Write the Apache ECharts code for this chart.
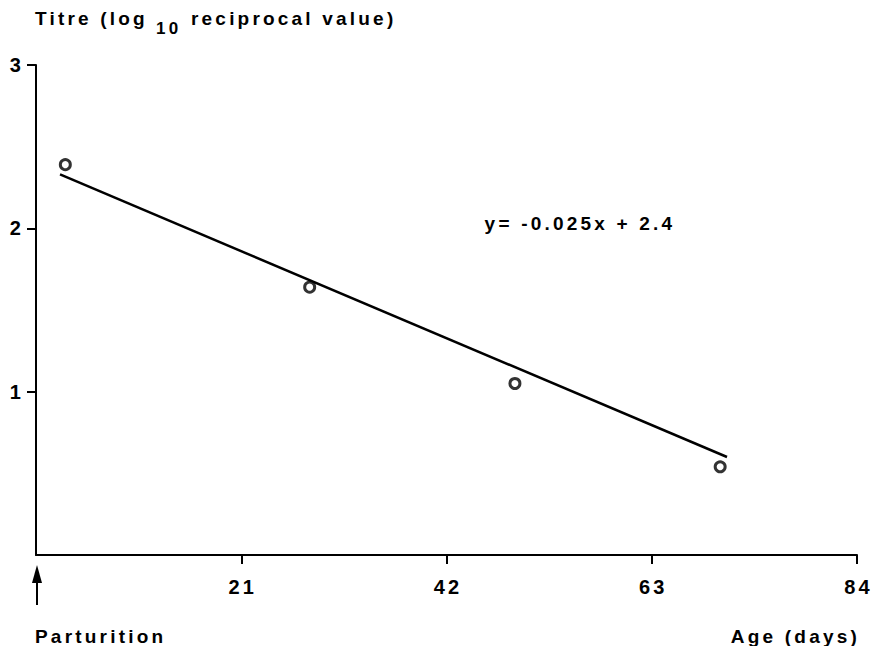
<!DOCTYPE html>
<html>
<head>
<meta charset="utf-8">
<script src="https://cdn.jsdelivr.net/npm/echarts@6/dist/echarts.min.js"></script>
<style>
html,body{margin:0;padding:0;background:#fff;}
#c{width:876px;height:646px;}
#c svg text{letter-spacing:3.2px;}
</style>
</head>
<body>
<div id="c"></div>
<script>
// Data
const ageDays = [3, 28, 49, 70];
const titre = [2.39, 1.64, 1.05, 0.54];
const fitX = [2.46, 70.7];
const fitY = [2.33, 0.60];
const xTicks = [21, 42, 63, 84];
const yTicks = [1, 2, 3];
const equationText = 'y= -0.025x + 2.4';
const equationAt = [45.9, 2.03];

const FONT = '"Liberation Sans", Arial, sans-serif';
const chart = echarts.init(document.getElementById('c'), null, {renderer: 'svg'});

const labelStyle = {color: '#000', fontFamily: FONT, fontSize: 20, fontWeight: 'bold'};

const option = {
  backgroundColor: '#fff',
  animation: false,
  grid: {left: 36, top: 65, right: 19, bottom: 91, containLabel: false},
  xAxis: {
    type: 'value', min: 0, max: 84, interval: 21,
    axisLine: {lineStyle: {color: '#000', width: 2}},
    axisTick: {show: true, length: 9, lineStyle: {color: '#000', width: 2}, customValues: xTicks},
    axisLabel: Object.assign({customValues: xTicks, margin: 22, padding: [0, 0, 0, 3]}, labelStyle),
    splitLine: {show: false}
  },
  yAxis: {
    type: 'value', min: 0, max: 3, interval: 1,
    axisLine: {show: true, lineStyle: {color: '#000', width: 2}},
    axisTick: {show: true, length: 9, lineStyle: {color: '#000', width: 2}, customValues: yTicks},
    axisLabel: Object.assign({customValues: yTicks, margin: 12}, labelStyle),
    splitLine: {show: false}
  },
  series: [
    {
      type: 'line',
      data: fitX.map((x, i) => [x, fitY[i]]),
      showSymbol: false,
      lineStyle: {color: '#000', width: 2.5},
      z: 2
    },
    {
      type: 'scatter',
      data: ageDays.map((x, i) => [x, titre[i]]),
      symbol: 'circle',
      symbolSize: 10,
      itemStyle: {color: '#fff', borderColor: '#000', borderWidth: 3},
      z: 3
    }
  ]
};
chart.setOption(option);

const origin = chart.convertToPixel({gridIndex: 0}, [0, 0]);
const xEnd = chart.convertToPixel({gridIndex: 0}, [84, 0]);
const eq = chart.convertToPixel({gridIndex: 0}, equationAt);

const txt = (text, x, y, align, size) => ({
  type: 'text', x: x, y: y,
  style: {text: text, fontFamily: FONT, fontSize: size || 19, fontWeight: 'bold', fill: '#000', verticalAlign: 'middle', align: align || 'left'}
});

chart.setOption({
  graphic: [
    txt('Titre (log', 35, 18),
    txt('10', 156, 28, 'left', 17),
    txt('reciprocal value)', 191, 18),
    txt(equationText, eq[0], eq[1], 'left', 19),
    {
      type: 'line', shape: {x1: origin[0] + 1, y1: origin[1] + 24, x2: origin[0] + 1, y2: origin[1] + 50},
      style: {stroke: '#000', lineWidth: 2}
    },
    {
      type: 'polygon', shape: {points: [[origin[0] + 1, origin[1] + 10], [origin[0] - 4, origin[1] + 28], [origin[0] + 6, origin[1] + 28]]},
      style: {fill: '#000'}
    },
    txt('Parturition', origin[0] - 1, origin[1] + 81),
    txt('Age (days)', xEnd[0] + 3, xEnd[1] + 81, 'right')
  ]
});
</script>
</body>
</html>
